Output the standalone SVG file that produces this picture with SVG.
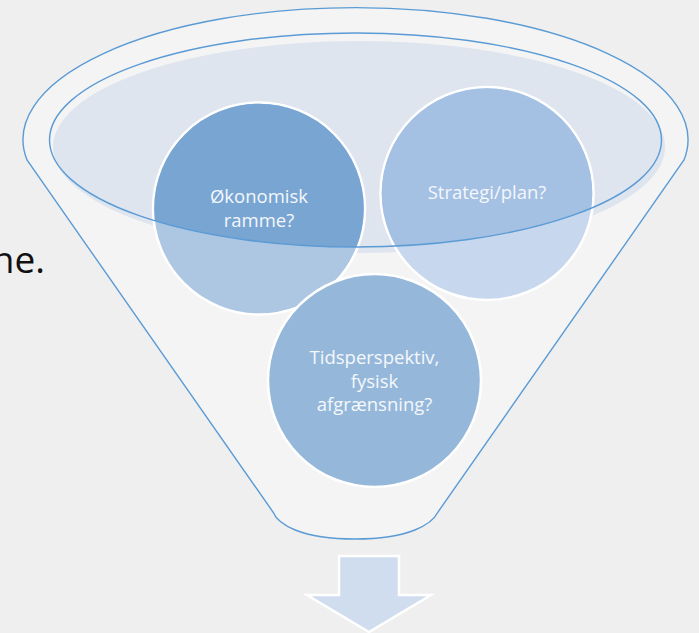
<svg xmlns="http://www.w3.org/2000/svg" width="699" height="633" viewBox="0 0 699 633">
<defs>
<style>
.ln{fill:none;stroke:#5b9bd5;stroke-width:1.4}
.circ{stroke:#ffffff;stroke-width:2.5}
.lbl{font-family:"Open Sans","Liberation Sans",sans-serif;font-size:18.5px;fill:#f4f7fb;text-anchor:middle}
</style>
<clipPath id="ellClip"><ellipse cx="355.5" cy="140" rx="306" ry="107"/></clipPath>
</defs>
<rect x="0" y="0" width="699" height="633" fill="#efefef"/>
<text x="45" y="273" font-family="'Open Sans','Liberation Sans',sans-serif" font-size="37" fill="#111111" text-anchor="end">ne.</text>
<g id="funnel">
<path d="M27,160 A332.5,132 0 1 1 684,160 L438,512 C432,524 410,539 355,539 C300,539 278,524 273,512 Z" fill="#f4f4f4" stroke="#5b9bd5" stroke-width="1.4"/>
<ellipse cx="359" cy="147" rx="306" ry="106" fill="#dee5ef"/>
</g>
<g id="node-okonomisk">
<circle class="circ" cx="259" cy="208.5" r="106" fill="#adc7e3"/>
<circle cx="259" cy="208.5" r="104.8" fill="#78a5d2" clip-path="url(#ellClip)"/>
</g>
<g id="node-strategi">
<circle class="circ" cx="487" cy="193.5" r="106.5" fill="#c7d8ee"/>
<circle cx="487" cy="193.5" r="105.3" fill="#a4c0e3" clip-path="url(#ellClip)"/>
</g>
<g id="node-tids">
<circle class="circ" cx="374.5" cy="380.5" r="106.5" fill="#95b8da"/>
</g>
<g id="connectors">
<ellipse class="ln" cx="355.5" cy="140" rx="306" ry="107"/>
<path d="M339,556 L399,556 L399,595 L431,595 L369,632 L307,595 L339,595 Z" fill="#d0ddee" stroke="#ffffff" stroke-width="2.5"/>
</g>
<g id="labels">
<text class="lbl" x="259" y="203">Økonomisk</text>
<text class="lbl" x="259" y="227">ramme?</text>
<text class="lbl" x="487" y="199">Strategi/plan?</text>
<text class="lbl" x="374.5" y="364">Tidsperspektiv,</text>
<text class="lbl" x="374.5" y="387.5">fysisk</text>
<text class="lbl" x="374.5" y="411">afgrænsning?</text>
</g>
</svg>
